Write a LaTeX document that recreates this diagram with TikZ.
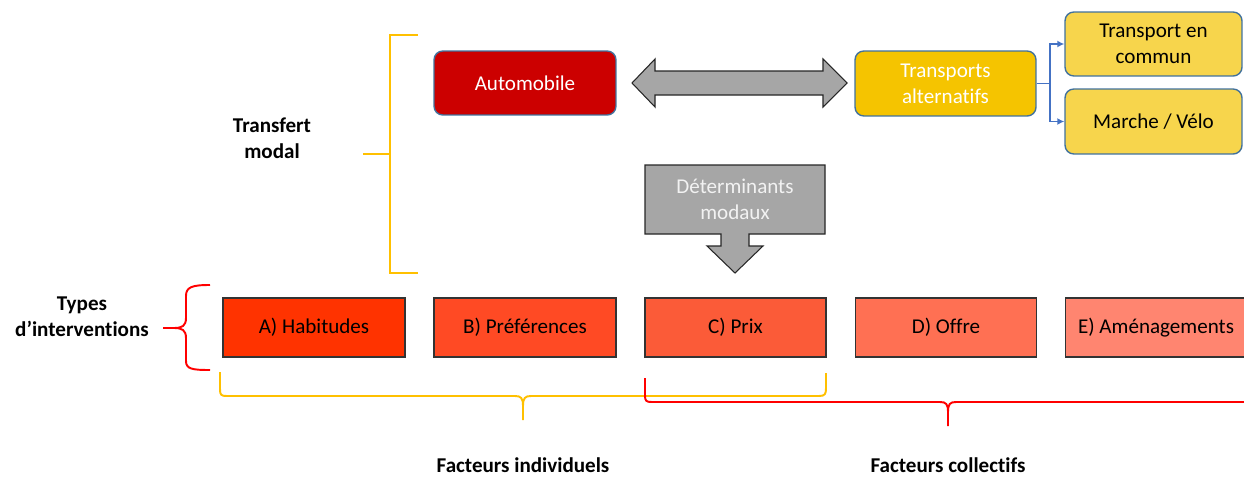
\documentclass[tikz,border=0pt]{standalone}
\usepackage{fontspec}
\setmainfont[Ligatures=NoCommon]{Carlito}
\usetikzlibrary{arrows.meta}
\definecolor{autored}{HTML}{CC0000}
\definecolor{gold}{HTML}{F5C400}
\definecolor{lgold}{HTML}{F7D54C}
\definecolor{bbord}{HTML}{41719C}
\definecolor{agray}{HTML}{A6A6A6}
\definecolor{blink}{HTML}{4472C4}
\definecolor{brgold}{HTML}{FFC000}
\definecolor{cA}{HTML}{FF3300}
\definecolor{cB}{HTML}{FF4A24}
\definecolor{cC}{HTML}{FB5B38}
\definecolor{cD}{HTML}{FF7053}
\definecolor{cE}{HTML}{FF8570}
\begin{document}
\begin{tikzpicture}[x=0.02cm,y=-0.02cm,
  every node/.style={font=\fontsize{12}{14.8}\selectfont, align=center, inner sep=0pt},
  rbox/.style={draw=bbord, line width=0.8pt, rounded corners=5pt, minimum width=3.64cm, minimum height=1.28cm},
  ibox/.style={draw=black!80, line width=0.6pt, minimum width=3.64cm, minimum height=1.18cm},
  lbl/.style={font=\fontsize{12}{14.8}\selectfont\bfseries},
  shape arrow/.style={fill=agray, draw=black!85, line width=0.6pt, line join=miter},
  brk/.style={line width=1.1pt},
  lnk/.style={draw=blink, line width=0.9pt, -{Latex[length=4pt,width=4pt]}}]
\useasboundingbox (0,0) rectangle (1244,477);

% top boxes
\node[rbox, fill=autored, text=white] (auto) at (525,83) {Automobile};
\node[rbox, fill=gold, text=white, minimum width=3.62cm, minimum height=1.30cm] (alt) at (945.5,83.5) {Transports\\alternatifs};
\node[rbox, fill=lgold, minimum width=3.54cm] (tec) at (1153.5,44) {Transport en\\commun};
\node[rbox, fill=lgold, minimum width=3.54cm, minimum height=1.30cm] (mv) at (1153.5,121.5) {Marche / Vélo};

% connectors
\coordinate (br) at (1050,83.5);
\draw[draw=blink, line width=0.9pt] (alt.east) -- (br);
\draw[lnk] (br) |- (tec.west);
\draw[lnk] (br) |- (mv.west);

% double arrow
\draw[shape arrow] (632,83) -- (655,59) -- (655,71) -- (823,71) -- (823,59) -- (847,83)
  -- (823,107) -- (823,95) -- (655,95) -- (655,107) -- cycle;

% down arrow callout
\draw[shape arrow] (645,165) -- (825,165) -- (825,234) -- (749,234) -- (749,246) -- (763,246)
  -- (735,273) -- (707,246) -- (721,246) -- (721,234) -- (645,234) -- cycle;
\node[text=white!95!black] (det) at (735,199.5) {Déterminants\\modaux};

% intervention boxes
\node[ibox, fill=cA] (A) at (314,327.5) {A) Habitudes};
\node[ibox, fill=cB] (B) at (525,327.5) {B) Préférences};
\node[ibox, fill=cC, minimum width=3.62cm] (C) at (735.5,327.5) {C) Prix};
\node[ibox, fill=cD, minimum width=3.62cm] (D) at (946,327.5) {D) Offre};
\node[ibox, fill=cE] (E) at (1156,327.5) {E) Aménagements};

% labels
\node[lbl] (tm) at (272,138.5) {Transfert\\modal};
\node[lbl] (ti) at (82,317) {Types\\d’interventions};
\node[lbl] (fi) at (523,465) {Facteurs individuels};
\node[lbl] (fc) at (948,465) {Facteurs collectifs};

% yellow left bracket
\draw[brk, draw=brgold] (418,35) -- (390,35) -- (390,273) -- (418,273);
\draw[brk, draw=brgold] (363,154) -- (390,154);

% red left brace
\draw[brk, draw=red, line join=round] (210,285) .. controls (192,285) and (186,287) .. (186,296)
  -- (186,318) .. controls (186,326) and (182,328) .. (174,328) -- (163,328);
\draw[brk, draw=red] (174,328) .. controls (182,328) and (186,330) .. (186,338)
  -- (186,361) .. controls (186,369) and (192,370) .. (210,370);

% yellow bottom brace
\draw[brk, draw=brgold] (220,372) -- (220,389) .. controls (220,395) and (221,396) .. (227,396)
  -- (515,396) .. controls (521,396) and (523,398) .. (523,406) -- (523,420);
\draw[brk, draw=brgold] (523,406) .. controls (523,398) and (525,396) .. (531,396)
  -- (819,396) .. controls (825,396) and (826,394) .. (826,388) -- (826,373);

% red bottom brace
\draw[brk, draw=red] (645,378) -- (645,395) .. controls (645,401) and (646,402) .. (652,402)
  -- (940,402) .. controls (946,402) and (948,404) .. (948,412) -- (948,426);
\draw[brk, draw=red] (948,412) .. controls (948,404) and (950,402) .. (956,402) -- (1250,402);
\end{tikzpicture}
\end{document}
